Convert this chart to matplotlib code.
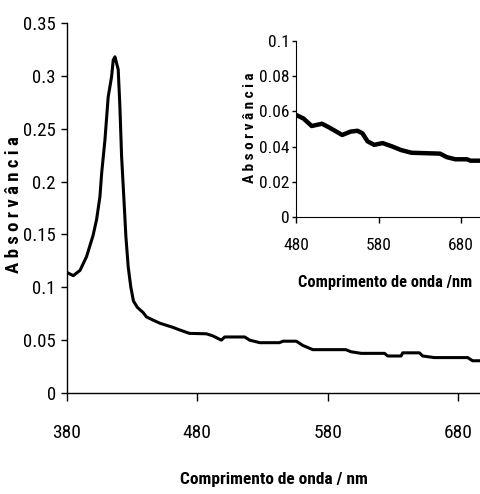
import matplotlib
matplotlib.use("Agg")
import matplotlib.pyplot as plt

# ---- data ----
wl_main = [380, 384.8, 390, 395, 400, 402.7, 405.3, 406.6, 409.1, 411.6, 414.2, 415.5, 416.8,
           419.3, 420.6, 421.9, 423.7, 425.2, 427, 429, 431, 434, 438.5, 441, 446, 451.3, 461.5, 466.6,
           474, 487, 492, 498.5, 501, 516.4, 520.2, 528, 543, 545.8, 556, 561, 568.7, 594, 598,
           605.8, 623.7, 626.2, 636.4, 637.7, 650.5, 653, 662, 687.5, 691.3, 697]
abs_main = [0.114, 0.111, 0.116, 0.129, 0.149, 0.164, 0.186, 0.208, 0.239, 0.280, 0.299, 0.315, 0.318,
            0.306, 0.271, 0.224, 0.183, 0.148, 0.119, 0.100, 0.087, 0.081, 0.076, 0.072, 0.069, 0.066, 0.062, 0.0596,
            0.0564, 0.056, 0.054, 0.050, 0.053, 0.053, 0.050, 0.0476, 0.0476, 0.049, 0.049, 0.045, 0.041,
            0.041, 0.039, 0.0375, 0.0375, 0.035, 0.035, 0.038, 0.038, 0.035, 0.0335, 0.0335, 0.0305, 0.0305]

wl_inset = [480, 489, 499, 511.5, 519.7, 536, 546, 554.5, 560.6, 566.7, 574.8, 585, 597, 607.6,
            620, 654.6, 662.8, 673, 687, 691.4, 703]
abs_inset = [0.058, 0.056, 0.0517, 0.053, 0.051, 0.0466, 0.0485, 0.049, 0.0475, 0.043, 0.041, 0.042,
             0.040, 0.038, 0.0365, 0.036, 0.034, 0.0328, 0.0328, 0.032, 0.032]

main_xticks = [380, 480, 580, 680]
main_yticks = [0, 0.05, 0.1, 0.15, 0.2, 0.25, 0.3, 0.35]
main_yticklabels = ["0", "0.05", "0.1", "0.15", "0.2", "0.25", "0.3", "0.35"]
inset_xticks = [480, 580, 680]
inset_yticks = [0, 0.02, 0.04, 0.06, 0.08, 0.1]
inset_yticklabels = ["0", "0.02", "0.04", "0.06", "0.08", "0.1"]

xlabel_main = "Comprimento de onda / nm"
xlabel_inset = "Comprimento de onda /nm"
ylabel = "A b s o r v â n c i a"

plt.rcParams['font.family'] = ["Roboto Condensed", "Archivo Narrow", "DejaVu Sans"]

fig = plt.figure(figsize=(4.8, 4.94), dpi=100)
W, H = 480, 494

def axrect(x0, y0, x1, y1):
    return [x0 / W, 1 - y1 / H, (x1 - x0) / W, (y1 - y0) / H]

ax = fig.add_axes(axrect(67, 23, 480, 393))
ax.plot(wl_main, abs_main, color="black", lw=2.2, solid_joinstyle="round")
ax.set_xlim(380, 697)
ax.set_ylim(0, 0.35)
ax.set_xticks(main_xticks)
ax.set_xticklabels([str(t) for t in main_xticks])
ax.set_yticks(main_yticks)
ax.set_yticklabels(main_yticklabels)
for s in ["top", "right"]:
    ax.spines[s].set_visible(False)
for s in ["left", "bottom"]:
    ax.spines[s].set_linewidth(1.0)
ax.tick_params(axis="x", direction="out", length=6, width=1, labelsize=14, pad=16)
ax.tick_params(axis="y", direction="out", length=4, width=1, labelsize=13.5, pad=4)
ax.set_xlabel(xlabel_main, fontsize=12.5, fontweight="bold", va="center")
ax.xaxis.set_label_coords(0.5, -0.235)
ax.set_ylabel(ylabel, fontsize=13.5, fontweight="bold", va="center", ha="center")
ax.yaxis.set_label_coords(-0.128, 0.508)

ins = fig.add_axes(axrect(296, 41, 480, 217))
ins.patch.set_facecolor("white")
ins.plot(wl_inset, abs_inset, color="black", lw=3.2, solid_joinstyle="round")
ins.set_xlim(480, 703)
ins.set_ylim(0, 0.1)
ins.set_xticks(inset_xticks)
ins.set_xticklabels([str(t) for t in inset_xticks])
ins.set_yticks(inset_yticks)
ins.set_yticklabels(inset_yticklabels)
for s in ["top", "right"]:
    ins.spines[s].set_visible(False)
ins.tick_params(axis="x", direction="out", length=4, width=1, labelsize=12.5, pad=11)
ins.tick_params(axis="y", direction="out", length=3, width=1, labelsize=12.5, pad=1.5)
ins.set_xlabel(xlabel_inset, fontsize=11.8, fontweight="bold", va="center")
ins.xaxis.set_label_coords(0.484, -0.375)
ins.set_ylabel(ylabel, fontsize=11, fontweight="bold", va="center", ha="center")
ins.yaxis.set_label_coords(-0.25, 0.506)

fig.savefig("out.png", dpi=100)
